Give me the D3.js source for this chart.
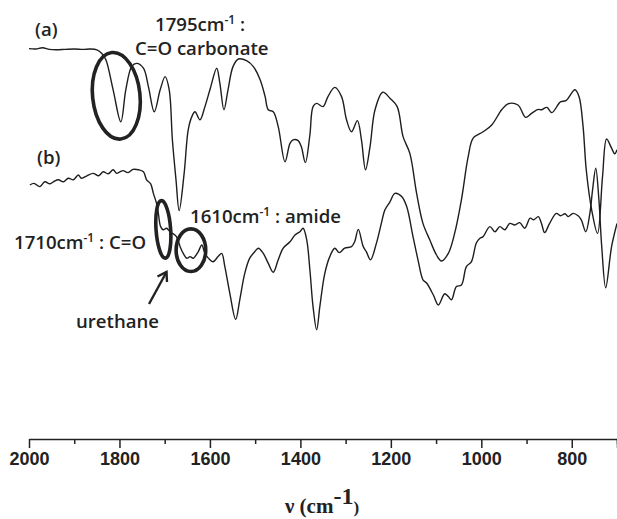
<!DOCTYPE html>
<html>
<head>
<meta charset="utf-8">
<script src="https://cdn.jsdelivr.net/npm/d3@7"></script>
<style>
  html, body { margin: 0; padding: 0; background: #fff; }
  svg { display: block; }
  .ann { font-family: "Open Sans", "Noto Sans", sans-serif; font-weight: 600; fill: #222; }
</style>
</head>
<body>
<svg id="chart" width="617" height="519"></svg>
<script>
// Wavenumbers (cm-1) and relative transmittance (a.u.)
const waveA = [2000,1985,1970,1955,1940,1920,1900,1880,1865,1850,1839,1830,1814,1797,1786,1773,1762,1747,1736,1723,1710,1699,1690,1683,1675,1668,1657,1648,1640,1633,1622,1611,1600,1585,1578,1569,1560,1549,1537,1519,1504,1489,1478,1471,1460,1449,1434,1423,1416,1405,1398,1389,1379,1372,1364,1350,1339,1324,1309,1298,1287,1274,1265,1256,1246,1235,1218,1202,1186,1173,1158,1143,1129,1114,1099,1088,1073,1059,1044,1029,1018,996,977,955,941,919,902,889,874,867,855,844,825,813,793,784,775,768,756,743,732,723,712,705,700];
const seriesA = [97.6,97.5,97.8,97.4,97.3,97.4,97.5,97.4,97.5,97.3,96.4,94.8,87.3,79.3,87.3,93.1,93.9,92.7,88.1,81.8,87.3,90.6,87.3,74.8,64.8,57.1,66.4,77.3,80.6,81.8,79.8,83.1,87.3,92.7,88.9,82.3,87.3,93.1,95.0,94.6,93.1,89.8,85.6,82.3,81.8,78.1,69.3,73.9,74.8,74.6,73.1,69.1,76.0,83.1,83.9,83.1,85.6,87.9,85.6,79.8,76.8,79.6,74.8,67.3,73.1,82.3,86.7,85.2,83.1,75.6,71.4,61.4,53.9,49.8,46.0,44.5,46.4,51.4,59.8,70.6,75.2,76.8,78.5,82.3,83.8,83.5,80.4,81.4,82.4,82.3,82.9,81.6,84.3,84.6,87.3,85.6,78.1,67.3,57.3,51.4,65.6,75.0,72.7,71.3,72.3];

const waveB = [1998,1989,1976,1965,1954,1946,1935,1924,1913,1902,1891,1884,1872,1858,1846,1836,1825,1814,1806,1799,1792,1781,1770,1758,1747,1740,1731,1725,1718,1714,1709,1703,1696,1688,1674,1666,1659,1651,1644,1637,1626,1618,1611,1600,1593,1582,1574,1567,1556,1543,1534,1523,1512,1501,1493,1482,1471,1460,1449,1438,1423,1412,1401,1394,1386,1379,1372,1364,1357,1346,1335,1324,1314,1302,1287,1280,1272,1261,1254,1245,1232,1221,1213,1202,1191,1176,1165,1151,1140,1129,1121,1106,1095,1081,1073,1066,1055,1044,1033,1022,1011,1003,996,981,970,959,948,937,926,915,904,892,884,874,867,860,849,834,825,815,808,797,786,779,769,760,754,747,740,734,725,712,700];
const seriesB = [63.5,63.9,63.1,64.3,63.8,64.3,64.8,64.3,65.2,64.8,66.0,65.2,65.8,66.4,65.8,66.8,66.3,67.3,66.4,66.8,67.1,66.6,67.4,67.3,66.8,64.8,63.8,61.4,58.9,56.4,53.1,52.3,52.7,51.8,50.6,48.1,46.4,45.2,45.6,45.2,46.8,48.5,46.4,44.8,44.3,45.6,46.4,43.1,36.4,29.9,34.8,41.4,45.2,46.8,47.7,46.4,43.9,41.7,44.8,47.7,49.3,51.0,51.8,52.7,49.8,42.3,33.1,27.3,33.1,41.4,45.6,47.7,46.6,47.7,48.1,49.3,52.4,48.1,46.8,44.8,48.9,53.9,57.3,59.3,61.4,60.6,58.1,50.6,44.8,39.8,39.0,36.0,33.5,36.3,35.6,34.8,38.1,38.5,43.1,44.3,49.0,50.2,50.6,53.1,51.8,53.1,52.3,53.9,53.5,54.1,52.7,55.2,54.8,55.6,53.9,51.6,53.9,56.4,55.8,56.3,55.6,56.4,55.8,54.8,51.8,56.4,62.3,67.7,59.8,48.5,37.8,48.1,53.9];

const majorTicks = [2000,1800,1600,1400,1200,1000,800,700];
const minorTicks = [1900,1700,1500,1300,1100,900,700];
const tickLabels = ["2000","1800","1600","1400","1200","1000","800",""];

// Annotation ellipses placed in data coordinates
const ellipseWave = [1807, 1703, 1642];
const ellipseVal  = [85.8, 52.4, 47.2];

const svg = d3.select("#chart");
const x = d3.scaleLinear().domain([2000, 700]).range([29, 617]);
const y = d3.scaleLinear().domain([0, 100]).range([439, 39]);

const line = d3.line()
  .x(d => x(d[0])).y(d => y(d[1]))
  .curve(d3.curveCatmullRom.alpha(0.5));

const dataA = waveA.map((w, i) => [w, seriesA[i]]);
const dataB = waveB.map((w, i) => [w, seriesB[i]]);

[dataA, dataB].forEach(d => {
  svg.append("path").datum(d).attr("d", line)
    .attr("fill", "none").attr("stroke", "#1e1e1e").attr("stroke-width", 1.4)
    .attr("stroke-linejoin", "round");
});

// Axis
const gMinor = svg.append("g").attr("transform", "translate(0,439)")
  .call(d3.axisBottom(x).tickValues(minorTicks).tickSize(5).tickSizeOuter(0).tickFormat(""));
gMinor.select(".domain").remove();
gMinor.selectAll("line").attr("stroke", "#222").attr("stroke-width", 1.5);

const gAxis = svg.append("g").attr("transform", "translate(0,439)")
  .call(d3.axisBottom(x).tickValues(majorTicks).tickSize(9).tickSizeOuter(0)
    .tickFormat((d, i) => tickLabels[i]));
gAxis.select(".domain").attr("stroke", "#222").attr("stroke-width", 1.6);
gAxis.selectAll("line").attr("stroke", "#222").attr("stroke-width", 1.5);
gAxis.selectAll("text")
  .attr("y", 13).attr("dy", "0.71em")
  .style("font-family", "'Liberation Sans', Arial, sans-serif")
  .style("font-weight", "bold").style("font-size", "18px").style("fill", "#222");

// Axis title
const title = svg.append("text").attr("x", 322).attr("y", 513)
  .attr("text-anchor", "middle")
  .style("font-family", "'Liberation Serif', 'Times New Roman', serif")
  .style("font-weight", "bold").style("fill", "#222");
title.append("tspan").style("font-size", "21px").text("ν (cm");
title.append("tspan").style("font-size", "24px").attr("dy", -9).text("-1");
title.append("tspan").style("font-size", "17px").attr("dy", 9).text(")");

// Ellipses
const ellRx = [23.7, 7.3, 14.8];
const ellRy = [43.5, 28.8, 21.3];
const ellRot = [-6, -4, 0];
ellipseWave.forEach((w, i) => {
  svg.append("ellipse")
    .attr("transform", `translate(${x(w)},${y(ellipseVal[i])}) rotate(${ellRot[i]})`)
    .attr("rx", ellRx[i]).attr("ry", ellRy[i])
    .attr("fill", "none").attr("stroke", "#222").attr("stroke-width", 3.6);
});

// Text labels
function sup(t, parts) {
  parts.forEach(p => {
    const ts = t.append("tspan").text(p[0]);
    if (p[1] === "sup") ts.attr("dy", -7).style("font-size", "12px");
    if (p[1] === "down") ts.attr("dy", 7);
  });
}
const ann = svg.append("g").attr("class", "ann").style("font-size", "18.6px");
ann.append("text").attr("x", 35).attr("y", 36).text("(a)");
ann.append("text").attr("x", 37).attr("y", 164).text("(b)");
sup(ann.append("text").attr("x", 155).attr("y", 31), [["1795cm"], ["-1", "sup"], [" :", "down"]]);
ann.append("text").attr("x", 135).attr("y", 55).text("C=O carbonate");
sup(ann.append("text").attr("x", 190).attr("y", 223), [["1610cm"], ["-1", "sup"], [" : amide", "down"]]);
sup(ann.append("text").attr("x", 14).attr("y", 249), [["1710cm"], ["-1", "sup"], [" : C=O", "down"]]);
ann.append("text").attr("x", 76).attr("y", 328).text("urethane");

// Arrow
svg.append("path").attr("d", "M149,304 L166.5,272")
  .attr("stroke", "#222").attr("stroke-width", 2.4).attr("fill", "none");
svg.append("path").attr("d", "M157.5,276.5 L166.5,272 L167,282")
  .attr("stroke", "#222").attr("stroke-width", 2.4).attr("fill", "none")
  .attr("stroke-linejoin", "miter");
</script>
</body>
</html>
